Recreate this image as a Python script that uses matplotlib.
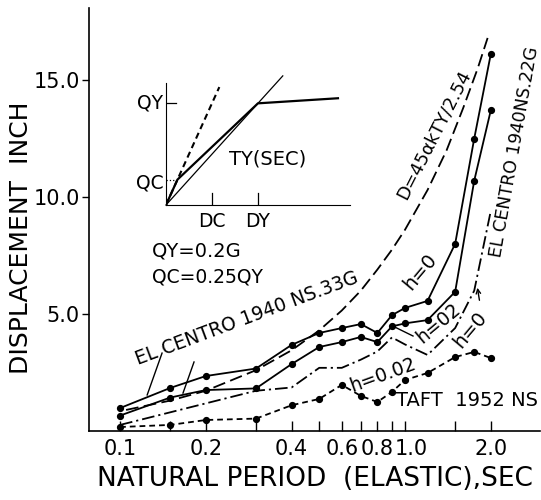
import numpy as np
import matplotlib
matplotlib.use("Agg")
import matplotlib.pyplot as plt
import matplotlib.transforms as mtransforms
from matplotlib.ticker import FixedLocator, FixedFormatter

plt.rcParams['font.family'] = ['DejaVu Sans']

# periods (sec) used for the El Centro response curves
period = [0.1, 0.15, 0.2, 0.3, 0.4, 0.5, 0.6, 0.7, 0.8, 0.9, 1.0, 1.2, 1.5, 1.75, 2.0]
elc_h0 = [0.98, 1.84, 2.35, 2.67, 3.68, 4.19, 4.4, 4.57, 4.19, 4.95, 5.26, 5.56, 8.0, 12.5, 16.1]
elc_h002 = [0.66, 1.43, 1.75, 1.82, 2.86, 3.59, 3.8, 4.02, 3.8, 4.47, 4.6, 4.74, 5.95, 10.7, 13.7]

# El Centro .22G, h=0 (dash-dot)
period_dd = [0.1, 0.3, 0.4, 0.5, 0.6, 0.7, 0.8, 0.9, 1.0, 1.2, 1.5, 1.75, 2.0]
elc22_h0 = [0.26, 1.72, 1.86, 2.7, 2.7, 3.05, 3.4, 4.0, 3.7, 3.25, 4.4, 6.0, 9.4]

# Taft 1952 NS, h=0.02
taft = [0.17, 0.26, 0.47, 0.53, 1.1, 1.37, 1.97, 1.5, 1.24, 1.67, 2.18, 2.48, 3.16, 3.38, 3.12]

# D = 45 a k TY / 2.54
period_d = [0.105, 0.15, 0.2, 0.3, 0.4, 0.5, 0.6, 0.7, 0.8, 0.9, 1.0, 1.2, 1.4, 1.6, 1.8, 1.95]
d_line = [0.9, 1.3, 1.72, 2.6, 3.45, 4.3, 5.15, 6.0, 6.9, 7.75, 8.6, 10.3, 12.0, 13.8, 15.5, 16.8]

xticks = [0.1, 0.15, 0.2, 0.3, 0.4, 0.5, 0.6, 0.7, 0.8, 0.9, 1.0, 1.5, 2.0]
xticklabels = ['0.1', '', '0.2', '', '0.4', '', '0.6', '', '0.8', '', '1.0', '', '2.0']
yticks = [5, 10, 15]
yticklabels = ['5.0', '10.0', '15.0']

# bilinear force-displacement sketch (units of DY and QY)
skel_d = [0, 0.125, 1.0, 1.87]
skel_q = [0, 0.25, 1.0, 1.05]
secant_d = [0, 1.27]
secant_q = [0, 1.27]
init_d = [0, 0.58]
init_q = [0, 1.16]
QC, QY, DC, DY = 0.25, 1.0, 0.5, 1.0

fig = plt.figure(figsize=(5.41, 5.0), dpi=100)
ax = fig.add_axes([0.1645, 0.138, 0.8336, 0.846])
ax.set_xscale('log')
ax.set_xlim(0.0778, 2.977)
ax.set_ylim(0, 18.08)

lw = 1.3
ax.plot(period, elc_h0, 'k-', lw=lw, marker='o', ms=4.2)
ax.plot(period, elc_h002, 'k-', lw=lw, marker='o', ms=4.2)
ax.plot(period_dd, elc22_h0, 'k', lw=lw, dashes=(7, 2.2, 1.2, 2.2))
ax.plot(period, taft, 'k', lw=lw, dashes=(3.2, 2.2), marker='o', ms=4.2)
ax.plot(period_d, d_line, 'k', lw=lw, dashes=(7, 3))

for sp in ['top', 'right']:
    ax.spines[sp].set_visible(False)
for sp in ['left', 'bottom']:
    ax.spines[sp].set_linewidth(1.2)

ax.xaxis.set_major_locator(FixedLocator(xticks))
ax.xaxis.set_major_formatter(FixedFormatter(xticklabels))
ax.xaxis.set_minor_locator(FixedLocator([]))
ax.tick_params(axis='x', direction='in', length=7.5, width=1, pad=6, labelsize=15)
ax.set_yticks(yticks)
ax.set_yticklabels(yticklabels)
ax.tick_params(axis='y', direction='out', length=5, width=1, pad=1.5, labelsize=15)

# the "1.0" label sits a little right of its tick
lab = ax.xaxis.get_major_ticks()[10].label1
lab.set_transform(lab.get_transform() + mtransforms.ScaledTranslation(0.06, 0, fig.dpi_scale_trans))

ax.set_xlabel('NATURAL PERIOD  (ELASTIC),SEC', fontsize=19, labelpad=5)
ax.set_ylabel('DISPLACEMENT  INCH', fontsize=18)
ax.yaxis.set_label_coords(-0.125, 0.456)

# curve labels
ax.text(0.278, 4.81, 'EL CENTRO 1940 NS.33G', fontsize=13.5, rotation=20.5,
        ha='center', va='center', rotation_mode='anchor')
ax.text(2.43, 11.92, 'EL CENTRO 1940NS.22G', fontsize=12.5, rotation=80,
        ha='center', va='center', rotation_mode='anchor')
ax.text(1.264, 12.69, 'D=45\u03b1kTY/2.54', fontsize=13, rotation=63,
        ha='center', va='center', rotation_mode='anchor')
ax.text(1.129, 6.79, 'h=0', fontsize=14, rotation=50,
        ha='center', va='center', rotation_mode='anchor')
ax.text(1.306, 4.62, 'h=02', fontsize=13.5, rotation=40,
        ha='center', va='center', rotation_mode='anchor')
ax.text(1.69, 4.32, 'h=0', fontsize=14, rotation=50,
        ha='center', va='center', rotation_mode='anchor')
ax.text(0.837, 2.39, 'h=0.02', fontsize=13.5, rotation=20,
        ha='center', va='center', rotation_mode='anchor')
ax.text(1.65, 1.32, 'TAFT  1952 NS', fontsize=14, ha='center', va='center')

# leader lines
ax.plot([0.1404, 0.1245], [3.33, 1.54], 'k-', lw=1)
ax.plot([0.1818, 0.1663], [2.95, 1.62], 'k-', lw=1)
ax.plot([1.067, 0.922], [4.06, 4.44], 'k-', lw=1)
ax.annotate('', xy=(1.789, 6.24), xytext=(1.832, 5.47),
            arrowprops=dict(arrowstyle='->', lw=1, mutation_scale=8))

# inset: restoring force model
ins = fig.add_axes([0.3068, 0.59, 0.340, 0.244])
ins.patch.set_visible(False)
ins.set_xlim(0, 2.0)
ins.set_ylim(0, 1.2)
for sp in ['top', 'right']:
    ins.spines[sp].set_visible(False)
ins.set_xticks([])
ins.set_yticks([])
ins.plot(skel_d, skel_q, 'k-', lw=1.6)
ins.plot(secant_d, secant_q, 'k-', lw=0.9, clip_on=False)
ins.plot(init_d, init_q, 'k', lw=1.5, dashes=(3, 2))
ins.plot([0, 0.11], [QY, QY], 'k-', lw=0.9)
ins.plot([0, skel_d[1]], [QC, QC], 'k:', lw=0.9)
ins.plot([DC, DC], [0, 0.12], 'k-', lw=0.9)
ins.plot([DY, DY], [0, 0.12], 'k-', lw=0.9)
ins.text(-0.03, QY, 'QY', fontsize=13.5, ha='right', va='center')
ins.text(-0.03, QC - 0.03, 'QC', fontsize=13.5, ha='right', va='center')
ins.text(DC, -0.165, 'DC', fontsize=13.5, ha='center', va='center')
ins.text(DY, -0.165, 'DY', fontsize=13.5, ha='center', va='center')
ins.text(0.69, 0.45, 'TY(SEC)', fontsize=14, ha='left', va='center')
ins.text(-0.15, -0.45, 'QY=0.2G', fontsize=14, ha='left', va='center', clip_on=False)
ins.text(-0.15, -0.71, 'QC=0.25QY', fontsize=13.5, ha='left', va='center', clip_on=False)

fig.savefig('out.png', dpi=100)
